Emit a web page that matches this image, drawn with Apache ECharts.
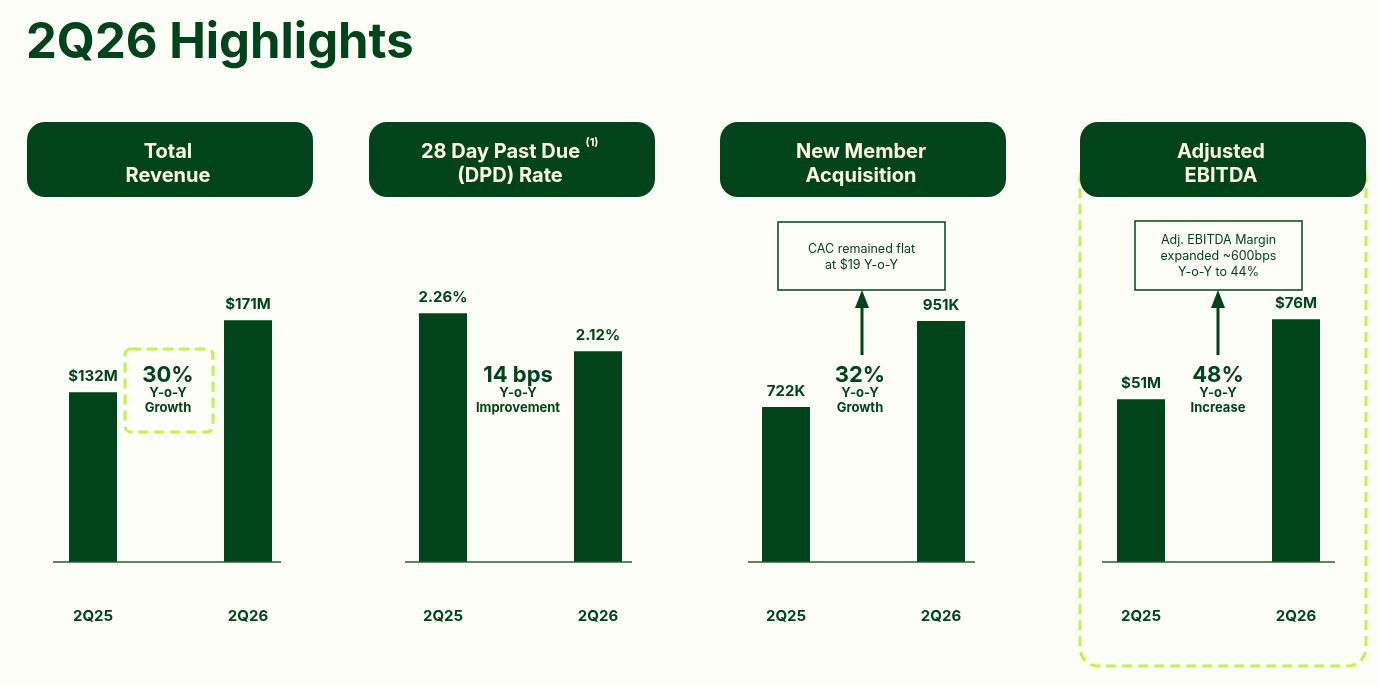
<!DOCTYPE html>
<html>
<head>
<meta charset="utf-8">
<script src="https://cdn.jsdelivr.net/npm/echarts@6/dist/echarts.min.js"></script>
<style>
html, body { margin: 0; padding: 0; background: #fdfdf7; }
#chart { width: 1379px; height: 686px; }
</style>
</head>
<body>
<div id="chart"></div>
<script>
const quarters = ['2Q25', '2Q26'];
const revenue = [132, 171];
const dpdRate = [2.26, 2.12];
const newMembers = [722, 951];
const ebitda = [51, 76];

const headers = ['Total\nRevenue', '28 Day Past Due    \n(DPD) Rate', 'New Member\nAcquisition', 'Adjusted\nEBITDA'];
const changeBig = ['30%', '14 bps', '32%', '48%'];
const changeSmall = ['Y-o-Y\nGrowth', 'Y-o-Y\nImprovement', 'Y-o-Y\nGrowth', 'Y-o-Y\nIncrease'];
const cacNote = 'CAC remained flat\nat $19 Y-o-Y';
const marginNote = 'Adj. EBITDA Margin\nexpanded ~600bps\nY-o-Y to 44%';

const green = '#01441b';
const lime = '#c2f24b';
const bg = '#fdfdf7';
const font = 'Inter, "Noto Sans", sans-serif';

// panel layout: grid left, axis bounds, baseline extent, header box x
const panels = [
	{left: 15.5, min: 40, max: 179.8, line: [53, 281], box: 27, mid: 168, data: revenue, fmt: v => '$' + v + 'M'},
	{left: 365.5, min: 1.343, max: 2.294, line: [405, 632], box: 369, mid: 518, data: dpdRate, fmt: v => v.toFixed(2) + '%'},
	{left: 708.5, min: 309, max: 996, line: [748, 975], box: 720, mid: 860, data: newMembers, fmt: v => v + 'K'},
	{left: 1063.5, min: 0, max: 80.8, line: [1102, 1335], box: 1080, mid: 1218, data: ebitda, fmt: v => '$' + v + 'M'}
];

const grid = panels.map(p => ({left: p.left, width: 310, top: 304, height: 258}));

const xAxis = panels.map((p, i) => ({
	type: 'category',
	gridIndex: i,
	data: quarters,
	axisLine: {show: false},
	axisTick: {show: false},
	axisLabel: {margin: 47, color: green, fontFamily: font, fontWeight: 'bold', fontSize: 15}
}));

const yAxis = panels.map((p, i) => ({
	type: 'value',
	gridIndex: i,
	min: p.min,
	max: p.max,
	show: false,
	splitLine: {show: false}
}));

const series = panels.map((p, i) => ({
	type: 'bar',
	xAxisIndex: i,
	yAxisIndex: i,
	barWidth: 48,
	data: p.data,
	itemStyle: {color: green},
	label: {
		show: true,
		position: 'top',
		distance: 8,
		color: green,
		fontFamily: font,
		fontWeight: 'bold',
		fontSize: 15,
		formatter: e => p.fmt(e.value)
	}
}));

const graphic = [];

graphic.push({type: 'text', left: 26, top: 19,
	style: {text: '2Q26 Highlights', fill: green, font: 'bold 49px ' + font}});

// dashed highlight boxes
graphic.push({type: 'rect', z: 1, shape: {x: 125, y: 349, width: 88, height: 83, r: 6},
	style: {fill: 'none', stroke: lime, lineWidth: 3, lineDash: [10, 6]}});
graphic.push({type: 'rect', z: 1, shape: {x: 1080, y: 160, width: 286, height: 506, r: 18},
	style: {fill: 'none', stroke: lime, lineWidth: 3, lineDash: [10, 6]}});

panels.forEach((p, i) =>
{
	graphic.push({type: 'rect', z: 5, shape: {x: p.box, y: 122, width: 286, height: 75, r: 18},
		style: {fill: green}});
	graphic.push({type: 'text', z: 6, x: p.box + 141, y: 163.5,
		style: {text: headers[i], fill: '#fdfbe8', font: 'bold 20px ' + font,
			align: 'center', verticalAlign: 'middle', lineHeight: 24}});
	graphic.push({type: 'line', z: 4, shape: {x1: p.line[0], y1: 562, x2: p.line[1], y2: 562},
		style: {stroke: '#2a5a3a', lineWidth: 1.5}});
	graphic.push({type: 'text', z: 6, x: p.mid, y: 375,
		style: {text: changeBig[i], fill: green, font: 'bold 22px ' + font,
			align: 'center', verticalAlign: 'middle'}});
	graphic.push({type: 'text', z: 6, x: p.mid, y: 400.5,
		style: {text: changeSmall[i], fill: green, font: 'bold 13px ' + font,
			align: 'center', verticalAlign: 'middle', lineHeight: 15}});
});

graphic.push({type: 'text', z: 6, x: 592, y: 143,
	style: {text: '(1)', fill: '#fdfbe8', font: 'bold 11px ' + font, align: 'center', verticalAlign: 'middle'}});

function note(x, y, w, h, text, ax)
{
	graphic.push({type: 'rect', z: 5, shape: {x, y, width: w, height: h},
		style: {fill: bg, stroke: green, lineWidth: 1.5}});
	graphic.push({type: 'text', z: 6, x: x + w / 2, y: y + h / 2 + 1,
		style: {text, fill: green, font: '12.5px ' + font, align: 'center',
			verticalAlign: 'middle', lineHeight: 16}});
	graphic.push({type: 'line', z: 5, shape: {x1: ax, y1: 355, x2: ax, y2: 305},
		style: {stroke: green, lineWidth: 3}});
	graphic.push({type: 'polygon', z: 5, shape: {points: [[ax, y + h], [ax - 7, y + h + 18], [ax + 7, y + h + 18]]},
		style: {fill: green}});
}

note(778, 222, 167, 68, cacNote, 862);
note(1135, 221, 167, 69, marginNote, 1218);

const chart = echarts.init(document.getElementById('chart'));
chart.setOption({
	backgroundColor: bg,
	animation: false,
	grid,
	xAxis,
	yAxis,
	series,
	graphic
});
</script>
</body>
</html>
